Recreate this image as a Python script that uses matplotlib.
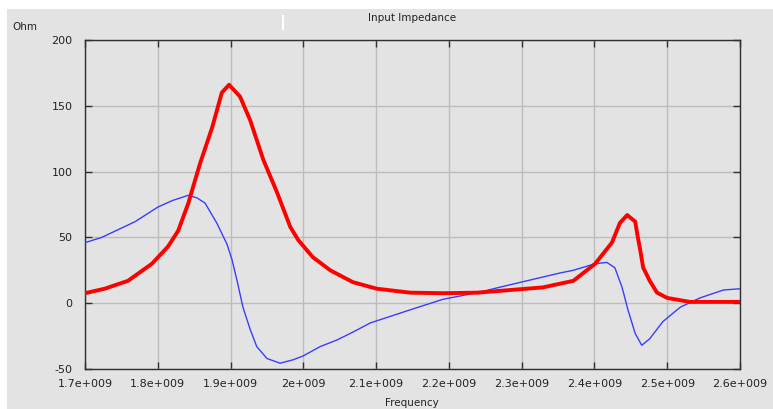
import matplotlib
matplotlib.use("Agg")
import matplotlib.pyplot as plt
from matplotlib.patches import Rectangle
from matplotlib.lines import Line2D
from matplotlib.ticker import FixedLocator

# Data (frequency in GHz, values in Ohm)
freq_re = [1.700, 1.727, 1.759, 1.792, 1.814, 1.828, 1.842, 1.851, 1.858, 1.875,
           1.888, 1.898, 1.913, 1.927, 1.945, 1.964, 1.982, 1.993, 2.013, 2.037,
           2.068, 2.101, 2.147, 2.192, 2.239, 2.284, 2.329, 2.371, 2.401, 2.424,
           2.435, 2.445, 2.456, 2.459, 2.463, 2.467, 2.476, 2.486, 2.500, 2.531, 2.600]
resistance = [7.6, 11, 17, 30, 43, 55, 76, 93, 106, 134,
              160, 166, 157, 139, 109, 84, 58, 48, 35, 25,
              16, 11, 8, 7.6, 8, 10, 12, 17, 30, 46,
              61, 67, 62, 52, 40, 27, 17, 8, 4, 1, 1]

freq_im = [1.700, 1.723, 1.769, 1.800, 1.820, 1.842, 1.854, 1.865, 1.881, 1.895,
           1.902, 1.909, 1.917, 1.927, 1.936, 1.950, 1.968, 1.986, 2.000, 2.023,
           2.046, 2.068, 2.092, 2.147, 2.192, 2.239, 2.284, 2.353, 2.371, 2.401,
           2.417, 2.428, 2.438, 2.446, 2.456, 2.465, 2.476, 2.494, 2.518, 2.545,
           2.577, 2.600]
reactance = [46, 50, 62, 73, 78, 82, 80, 76, 61, 45,
             33, 17, -3, -20, -33, -42, -45.6, -43, -40, -33,
             -28, -22, -15, -5, 3, 8, 14, 23, 25, 30,
             31, 27, 12, -5, -23, -32, -27, -14, -3, 4,
             10, 11]

xticks = [1.7e9, 1.8e9, 1.9e9, 2.0e9, 2.1e9, 2.2e9, 2.3e9, 2.4e9, 2.5e9, 2.6e9]
xticklabels = ["1.7e+009", "1.8e+009", "1.9e+009", "2e+009", "2.1e+009",
               "2.2e+009", "2.3e+009", "2.4e+009", "2.5e+009", "2.6e+009"]
yticks = [-50, 0, 50, 100, 150, 200]
yticklabels = ["-50", "0", "50", "100", "150", "200"]

W, H = 773, 409
bg = "#e3e3e3"
fig = plt.figure(figsize=(W / 100, H / 100), dpi=100, facecolor="white")
fig.patches.append(Rectangle((7 / W, 0), 1 - 7 / W, 1 - 9 / H, transform=fig.transFigure,
                             facecolor=bg, edgecolor="none", zorder=-10))
# small separator mark at top
fig.lines.append(Line2D([283 / W, 283 / W], [1 - 16 / H, 1 - 29 / H], transform=fig.transFigure,
                        color="white", lw=1.5))

ax = fig.add_axes([85 / W, 40 / H, 655 / W, 329 / H])
ax.set_facecolor(bg)
ax.set_xlim(1.7e9, 2.6e9)
ax.set_ylim(-50, 200)

ax.xaxis.set_major_locator(FixedLocator(xticks))
ax.yaxis.set_major_locator(FixedLocator(yticks))
ax.set_xticklabels(xticklabels)
ax.set_yticklabels(yticklabels)
ax.grid(True, color="#bdbdbd", lw=1.0)
ax.set_axisbelow(True)
for s in ax.spines.values():
    s.set_color("#303030")
    s.set_linewidth(1.0)
ax.tick_params(axis="both", direction="in", length=5, width=1, colors="#303030",
               labelsize=8, labelcolor="#222222", top=True, right=True)
ax.tick_params(axis="y", pad=9)
ax.tick_params(axis="x", pad=7)

fz = [f * 1e9 for f in freq_im]
fr = [f * 1e9 for f in freq_re]
ax.plot(fz, reactance, color="#3c3cff", lw=1.0, zorder=3)
ax.plot(fr, resistance, color="#ff0000", lw=2.8, zorder=4, solid_joinstyle="round")

fig.text(412 / W, 1 - 18 / H, "Input Impedance", ha="center", va="center", fontsize=7.5, color="#222222")
fig.text(12 / W, 1 - 27 / H, "Ohm", ha="left", va="center", fontsize=7.5, color="#222222")
fig.text(412 / W, 1 - 403 / H, "Frequency", ha="center", va="center", fontsize=7.5, color="#222222")

fig.savefig("out.png", dpi=100, facecolor=fig.get_facecolor())
